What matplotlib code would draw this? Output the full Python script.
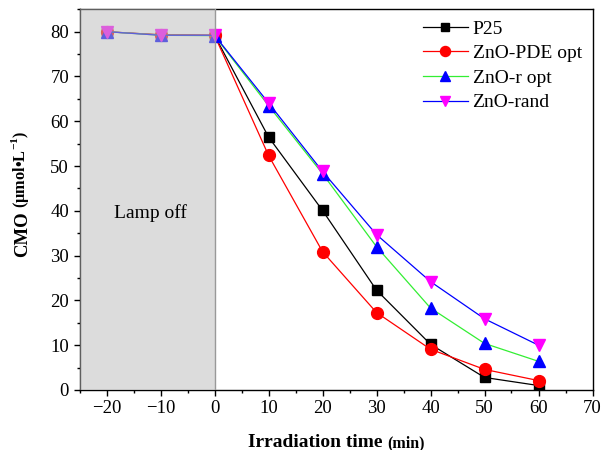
import matplotlib
matplotlib.use('Agg')
import matplotlib.pyplot as plt
from matplotlib.ticker import MultipleLocator

# ---- data ----
time = [-20, -10, 0, 10, 20, 30, 40, 50, 60]
p25 = [80, 79.3, 79.2, 56.5, 40.1, 22.3, 10.2, 2.8, 1.0]
zno_pde = [80, 79.3, 79.2, 52.4, 30.9, 17.3, 9.1, 4.6, 2.1]
zno_r = [80, 79.2, 79.1, 63.5, 48.3, 32.0, 18.3, 10.4, 6.4]
zno_rand = [80, 79.2, 79.2, 64.1, 48.8, 34.7, 24.2, 15.9, 10.0]
labels = ["P25", "ZnO-PDE opt", "ZnO-r opt", "ZnO-rand"]
xticks = [-20, -10, 0, 10, 20, 30, 40, 50, 60, 70]
yticks = [0, 10, 20, 30, 40, 50, 60, 70, 80]

SERIF = ['Liberation Serif', 'DejaVu Serif']
plt.rcParams['font.family'] = SERIF
plt.rcParams['mathtext.fontset'] = 'custom'
plt.rcParams['mathtext.rm'] = 'Liberation Serif'
plt.rcParams['mathtext.bf'] = 'Liberation Serif:bold'

fig = plt.figure(figsize=(6.02, 4.5), dpi=100)
ax = fig.add_axes([79.5/602, 60/450, 513/602, 380.7/450])

ax.plot(time, p25, '-', color='black', lw=0.9, marker='s', ms=7.5, mfc='black', mec='black', label=labels[0], zorder=2)
ax.plot(time, zno_pde, '-', color='red', lw=0.9, marker='o', ms=8.5, mfc='red', mec='red', label=labels[1], zorder=2)
ax.plot(time, zno_r, '-', color='#33ee33', lw=0.9, marker='^', ms=9, mfc='blue', mec='blue', label=labels[2], zorder=2)
ax.plot(time, zno_rand, '-', color='blue', lw=0.9, marker='v', ms=9, mfc='magenta', mec='magenta', label=labels[3], zorder=2)

ax.axvspan(-25, 0, facecolor=(188/255, 188/255, 188/255), alpha=0.51, edgecolor='none', zorder=3)
ax.axvline(0, color='#999999', lw=1.0, zorder=3)
ax.text(-11.9, 39.5, "Lamp off", ha='center', va='center', fontsize=14, family=SERIF, zorder=4)

ax.set_xlim(-25, 70)
ax.set_ylim(0, 85)
ax.set_xticks(xticks)
ax.set_yticks(yticks)
ax.set_xticklabels(['\u221220', '\u221210'] + [str(v) for v in xticks[2:]], family=SERIF)
ax.set_yticklabels([str(v) for v in yticks], family=SERIF)
ax.xaxis.set_minor_locator(MultipleLocator(5))
ax.yaxis.set_minor_locator(MultipleLocator(5))
ax.tick_params(which='both', direction='out', top=False, right=False, labelsize=13.5, width=1.0)
ax.tick_params(which='major', length=4)
ax.tick_params(which='minor', length=2.5)
for s in ax.spines.values():
    s.set_linewidth(1.0)

leg = ax.legend(loc='upper right', frameon=False, prop={'family': SERIF, 'size': 14},
                handlelength=2.3, handletextpad=0.25, labelspacing=0.36, borderaxespad=0.15,
                bbox_to_anchor=(1.0, 1.0), markerscale=0.85)

# ---- axis labels built from pieces ----
fig.canvas.draw()
r = fig.canvas.get_renderer()
inv = fig.transFigure.inverted()

# x label
t1 = fig.text(0, 0, "Irradiation time ", fontsize=14, fontweight='bold', family=SERIF, va='baseline')
t2 = fig.text(0, 0, "(min)", fontsize=11.5, fontweight='bold', family=SERIF, va='baseline')
w1 = t1.get_window_extent(r).width
w2 = t2.get_window_extent(r).width
cx = 336
x0 = cx - (w1 + w2) / 2
yb = 450 - 447
t1.set_position(inv.transform((x0, yb)))
t2.set_position(inv.transform((x0 + w1, yb)))

# y label (rotated, reading bottom to top)
yl1 = fig.text(0, 0, "CMO", fontsize=13.5, fontweight='bold', family=SERIF, rotation=90,
               ha='left', va='bottom', rotation_mode='anchor')
yl2 = fig.text(0, 0, " (\u03bcmol\u2022L$^{\\mathbf{-1}}$)", fontsize=11.8, fontweight='bold', family=SERIF,
               rotation=90, ha='left', va='bottom', rotation_mode='anchor')
h1 = yl1.get_window_extent(r).height
h2 = yl2.get_window_extent(r).height
cy = 450 - 194
xb = 31
ystart = cy - (h1 + h2) / 2
yl1.set_position(inv.transform((xb, ystart)))
yl2.set_position(inv.transform((xb, ystart + h1)))

fig.savefig('out.png', dpi=100)
